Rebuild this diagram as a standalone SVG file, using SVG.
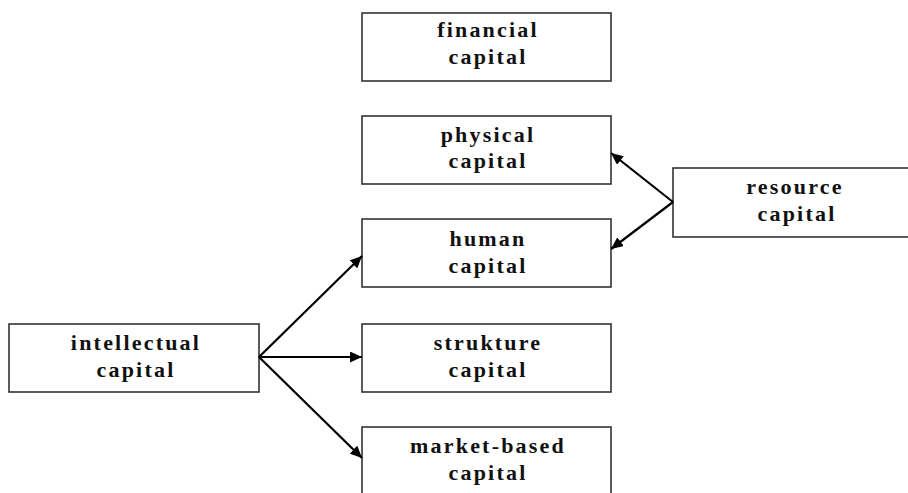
<svg xmlns="http://www.w3.org/2000/svg" width="908" height="493" viewBox="0 0 908 493">
<style>
.box{fill:#fff;stroke:#333;stroke-width:1.6}
.t{font-family:"Liberation Serif","Times New Roman",serif;font-weight:bold;font-size:22px;letter-spacing:2.2px;fill:#111;text-anchor:middle}
.c{stroke:#000;stroke-width:2.2;fill:none;marker-end:url(#ah)}
</style>
<defs>
<marker id="ah" markerUnits="userSpaceOnUse" markerWidth="13" markerHeight="11" refX="12" refY="5.5" orient="auto">
<path d="M0,0 L12,5.5 L0,11 z" fill="#000"/>
</marker>
</defs>
<rect width="908" height="493" fill="#fff"/>
<g id="financial">
<rect class="box" x="362" y="13" width="249" height="68"/>
<text class="t" x="488" y="37">financial</text>
<text class="t" x="488" y="64">capital</text>
</g>
<g id="physical">
<rect class="box" x="362" y="116" width="249" height="68"/>
<text class="t" x="488" y="142">physical</text>
<text class="t" x="488" y="168">capital</text>
</g>
<g id="human">
<rect class="box" x="362" y="219" width="249" height="68"/>
<text class="t" x="488" y="246">human</text>
<text class="t" x="488" y="273">capital</text>
</g>
<g id="strukture">
<rect class="box" x="362" y="324" width="249" height="68"/>
<text class="t" x="488" y="350">strukture</text>
<text class="t" x="488" y="377">capital</text>
</g>
<g id="market">
<rect class="box" x="362" y="427" width="249" height="70"/>
<text class="t" x="488" y="453">market-based</text>
<text class="t" x="488" y="480">capital</text>
</g>
<g id="intellectual">
<rect class="box" x="9" y="324" width="250" height="68"/>
<text class="t" x="136" y="350">intellectual</text>
<text class="t" x="136" y="377">capital</text>
</g>
<g id="resource">
<rect class="box" x="673" y="168" width="245" height="69"/>
<text class="t" x="795" y="194">resource</text>
<text class="t" x="797" y="221">capital</text>
</g>
<g id="connectors">
<line class="c" x1="259" y1="357" x2="362" y2="256"/>
<line class="c" x1="259" y1="357" x2="362" y2="357"/>
<line class="c" x1="259" y1="357" x2="362" y2="458"/>
<line class="c" x1="673" y1="202" x2="611" y2="153"/>
<line class="c" x1="673" y1="202" x2="611" y2="249"/>
</g>
</svg>
